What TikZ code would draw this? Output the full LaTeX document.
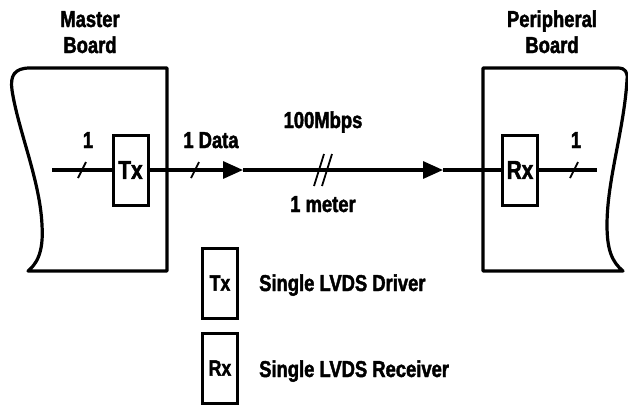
\documentclass[tikz,border=0pt]{standalone}
\usepackage{fontspec}
\setmainfont{Liberation Sans}[FakeStretch=0.8, BoldFeatures={FakeBold=1.8}]
\usetikzlibrary{arrows.meta, positioning}
\tikzset{
wire/.style={line width=3.2pt},
lvds/.style={draw, line width=3pt, minimum width=35pt, minimum height=70pt,
  inner sep=0pt, font=\fontsize{26}{28}\selectfont\bfseries},
lbl/.style={inner sep=0pt, anchor=base, font=\fontsize{23}{26}\selectfont\bfseries},
slash/.style={line width=1.8pt},
tip/.style={-{Triangle[length=20pt,width=17pt]}}
}
\begin{document}
\begin{tikzpicture}[x=1pt,y=-1pt]
\useasboundingbox (0,0) rectangle (628,405);
% boards
\draw[wire, line join=round] (167,68) -- (30,68)
  .. controls (14,68) and (10,76) .. (12,90)
  .. controls (18,130) and (40,180) .. (42,225)
  .. controls (44,255) and (35,265) .. (28,271) -- (167,271) -- cycle;
\draw[wire, line join=round] (483,271) -- (483,68) -- (618,68)
  .. controls (625,68) and (628,72) .. (627,80)
  .. controls (624,130) and (607,180) .. (607,225)
  .. controls (607,250) and (612,262) .. (623,271) -- cycle;
\node[lbl, align=center] (mb) at (90,53) {Master\\Board};
\node[lbl, align=center] (pb) at (552,53) {Peripheral\\Board};

% driver and receiver
\node[lvds] (tx) at (130.5,170) {Tx};
\node[lvds] (rx) at (520,170) {Rx};
\coordinate (in) at (52,170);
\coordinate (out) at (597,170);
\coordinate (a1) at (243,170);
\coordinate (a2) at (443,170);
\draw[wire] (in) -- (tx.west);
\draw[wire,tip] (tx.east) -- (a1);
\draw[wire,tip] (a1) -- (a2);
\draw[wire] (a2) -- (rx.west);
\draw[wire] (rx.east) -- (out);
\foreach \x in {82,195,574}
  \draw[slash] (\x-4,178) -- (\x+4,162);
\foreach \x in {319,327}
  \draw[slash] (\x-5,186) -- (\x+5,154);
\node[lbl] (n1) at (88,148) {1};
\node[lbl] (dat) at (211,148) {1 Data};
\node[lbl] (rate) at (323,128) {100Mbps};
\node[lbl] (len) at (323,212) {1 meter};
\node[lbl] (n2) at (576,148) {1};

% legend
\node[lvds, font=\fontsize{22}{24}\selectfont\bfseries] (ltx) at (220,283) {Tx};
\node[lvds, font=\fontsize{22}{24}\selectfont\bfseries] (lrx) at (220,368) {Rx};
\node[lbl, anchor=base west] at ([xshift=20pt]ltx.east |- 0,291) {Single LVDS Driver};
\node[lbl, anchor=base west] at ([xshift=20pt]lrx.east |- 0,377) {Single LVDS Receiver};
\end{tikzpicture}
\end{document}
